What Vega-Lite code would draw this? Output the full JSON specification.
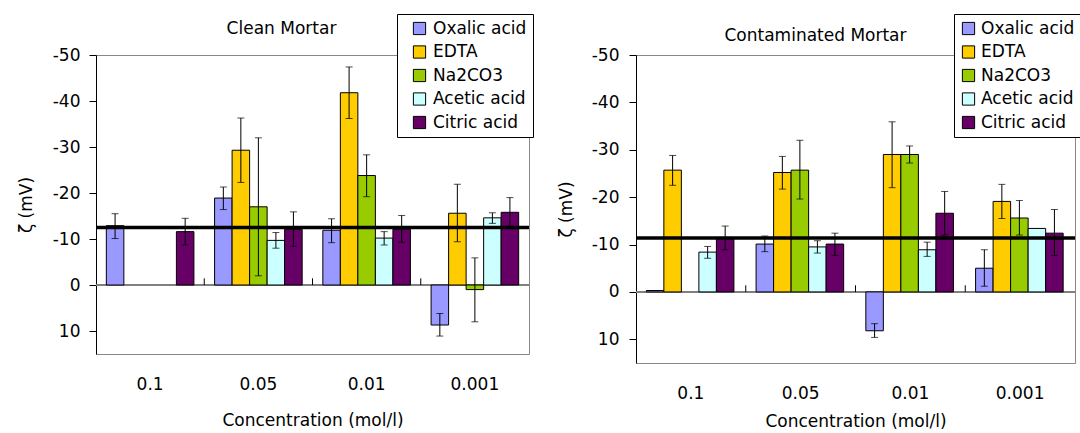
{
  "$schema": "https://vega.github.io/schema/vega-lite/v6.json",
  "background": "white",
  "padding": {"left": 16, "top": 13, "right": 0, "bottom": 0},
  "spacing": 22,
  "datasets": {
    "clean": [
      {"conc": "0.1", "acid": "Oxalic acid", "zeta": -12.9, "lo": -15.5, "hi": -10.1},
      {"conc": "0.1", "acid": "Citric acid", "zeta": -11.6, "lo": -14.5, "hi": -8.7},
      {"conc": "0.05", "acid": "Oxalic acid", "zeta": -18.9, "lo": -21.3, "hi": -16.4},
      {"conc": "0.05", "acid": "EDTA", "zeta": -29.3, "lo": -36.3, "hi": -22.3},
      {"conc": "0.05", "acid": "Na2CO3", "zeta": -17.0, "lo": -32.0, "hi": -2.0},
      {"conc": "0.05", "acid": "Acetic acid", "zeta": -9.7, "lo": -11.4, "hi": -8.0},
      {"conc": "0.05", "acid": "Citric acid", "zeta": -12.1, "lo": -15.9, "hi": -8.4},
      {"conc": "0.01", "acid": "Oxalic acid", "zeta": -11.9, "lo": -14.4, "hi": -9.2},
      {"conc": "0.01", "acid": "EDTA", "zeta": -41.8, "lo": -47.4, "hi": -36.2},
      {"conc": "0.01", "acid": "Na2CO3", "zeta": -23.8, "lo": -28.3, "hi": -19.2},
      {"conc": "0.01", "acid": "Acetic acid", "zeta": -10.2, "lo": -11.6, "hi": -8.7},
      {"conc": "0.01", "acid": "Citric acid", "zeta": -12.1, "lo": -15.1, "hi": -9.3},
      {"conc": "0.001", "acid": "Oxalic acid", "zeta": 8.7, "lo": 6.2, "hi": 11.1},
      {"conc": "0.001", "acid": "EDTA", "zeta": -15.6, "lo": -21.9, "hi": -9.4},
      {"conc": "0.001", "acid": "Na2CO3", "zeta": 1.0, "lo": -5.9, "hi": 8.0},
      {"conc": "0.001", "acid": "Acetic acid", "zeta": -14.6, "lo": -15.7, "hi": -13.4},
      {"conc": "0.001", "acid": "Citric acid", "zeta": -15.8, "lo": -19.0, "hi": -12.8}
    ],
    "contam": [
      {"conc": "0.1", "acid": "Oxalic acid", "zeta": -0.3},
      {"conc": "0.1", "acid": "EDTA", "zeta": -25.7, "lo": -28.8, "hi": -22.5},
      {"conc": "0.1", "acid": "Acetic acid", "zeta": -8.4, "lo": -9.6, "hi": -7.1},
      {"conc": "0.1", "acid": "Citric acid", "zeta": -11.4, "lo": -13.9, "hi": -8.9},
      {"conc": "0.05", "acid": "Oxalic acid", "zeta": -10.1, "lo": -11.8, "hi": -8.5},
      {"conc": "0.05", "acid": "EDTA", "zeta": -25.2, "lo": -28.6, "hi": -21.7},
      {"conc": "0.05", "acid": "Na2CO3", "zeta": -25.7, "lo": -32.0, "hi": -19.6},
      {"conc": "0.05", "acid": "Acetic acid", "zeta": -9.5, "lo": -10.8, "hi": -8.2},
      {"conc": "0.05", "acid": "Citric acid", "zeta": -10.1, "lo": -12.4, "hi": -7.7},
      {"conc": "0.01", "acid": "Oxalic acid", "zeta": 8.2, "lo": 6.7, "hi": 9.6},
      {"conc": "0.01", "acid": "EDTA", "zeta": -29.0, "lo": -35.9, "hi": -22.0},
      {"conc": "0.01", "acid": "Na2CO3", "zeta": -29.0, "lo": -30.8, "hi": -27.2},
      {"conc": "0.01", "acid": "Acetic acid", "zeta": -8.9, "lo": -10.5, "hi": -7.5},
      {"conc": "0.01", "acid": "Citric acid", "zeta": -16.6, "lo": -21.2, "hi": -12.0},
      {"conc": "0.001", "acid": "Oxalic acid", "zeta": -5.0, "lo": -8.9, "hi": -1.2},
      {"conc": "0.001", "acid": "EDTA", "zeta": -19.1, "lo": -22.7, "hi": -15.5},
      {"conc": "0.001", "acid": "Na2CO3", "zeta": -15.6, "lo": -19.3, "hi": -12.0},
      {"conc": "0.001", "acid": "Acetic acid", "zeta": -13.4},
      {"conc": "0.001", "acid": "Citric acid", "zeta": -12.4, "lo": -17.4, "hi": -7.7}
    ],
    "ref_clean": [{"ref": -12.5}],
    "ref_contam": [{"ref": -11.4}],
    "groups": [{"conc": "0.05"}, {"conc": "0.01"}, {"conc": "0.001"}]
  },
  "config": {
    "font": "DejaVu Sans",
    "view": {"stroke": "#888888", "strokeWidth": 1},
    "axis": {
      "labelFont": "DejaVu Sans", "titleFont": "DejaVu Sans",
      "labelFontSize": 17, "titleFontSize": 17, "titleFontWeight": "normal",
      "labelColor": "#000000", "titleColor": "#000000", "grid": false
    },
    "title": {"font": "DejaVu Sans", "fontSize": 17, "fontWeight": "normal", "color": "#000000"},
    "legend": {
      "orient": "none", "title": null,
      "strokeColor": "#000000", "fillColor": "#ffffff", "padding": 6,
      "symbolType": "square", "symbolSize": 150,
      "symbolStrokeColor": "#000000", "symbolStrokeWidth": 1,
      "labelFont": "DejaVu Sans", "labelFontSize": 17, "labelColor": "#000000",
      "rowPadding": 5.5, "symbolOffset": 8, "labelOffset": 5
    }
  },
  "resolve": {"scale": {"color": "independent"}, "legend": {"color": "independent"}},
  "hconcat": [
    {
      "width": 433,
      "height": 299,
      "title": {"text": "Clean Mortar", "frame": "group", "dx": -31, "offset": -24.5},
      "data": {"name": "clean"},
      "layer": [
        {
          "mark": {"type": "rule", "color": "#808080", "strokeWidth": 1.2},
          "encoding": {"y": {"datum": 0, "type": "quantitative"}}
        },
        {
          "data": {"name": "groups"},
          "mark": {"type": "rule", "color": "#000000", "strokeWidth": 1},
          "encoding": {
            "x": {"field": "conc", "type": "nominal", "bandPosition": 0},
            "y": {"datum": 0, "type": "quantitative"},
            "y2": {"datum": -1.45}
          }
        },
        {
          "mark": {"type": "bar", "stroke": "#000000", "strokeWidth": 1},
          "encoding": {
            "x": {
              "field": "conc", "type": "nominal",
              "scale": {"domain": ["0.1", "0.05", "0.01", "0.001"], "paddingInner": 0, "paddingOuter": 0},
              "title": "Concentration (mol/l)",
              "axis": {"orient": "bottom", "domain": false, "ticks": false, "tickSize": 0, "labelAngle": 0, "labelAlign": "center", "labelPadding": 30, "titlePadding": 20}
            },
            "xOffset": {
              "field": "acid", "type": "nominal",
              "scale": {"domain": ["Oxalic acid", "EDTA", "Na2CO3", "Acetic acid", "Citric acid"], "paddingInner": 0, "paddingOuter": 0.59}
            },
            "y": {
              "field": "zeta", "type": "quantitative",
              "scale": {"domain": [-50, 15], "reverse": true, "nice": false},
              "title": "ζ  (mV)",
              "axis": {"values": [-50, -40, -30, -20, -10, 0, 10], "tickSize": 7, "tickColor": "#000000", "domainColor": "#000000", "labelPadding": 9, "titlePadding": 17, "labelExpr": "'' + datum.value"}
            },
            "y2": {"datum": 0},
            "color": {
              "field": "acid", "type": "nominal",
              "scale": {"domain": ["Oxalic acid", "EDTA", "Na2CO3", "Acetic acid", "Citric acid"], "range": ["#9999FF", "#FFCC00", "#99CC00", "#CCFFFF", "#660066"]},
              "legend": {"legendX": 301, "legendY": -41}
            }
          }
        },
        {
          "mark": {"type": "rule", "color": "#000000", "strokeWidth": 1},
          "encoding": {
            "x": {"field": "conc", "type": "nominal"},
            "xOffset": {"field": "acid", "type": "nominal"},
            "y": {"field": "lo", "type": "quantitative"},
            "y2": {"field": "hi"}
          }
        },
        {
          "mark": {"type": "tick", "color": "#000000", "thickness": 1, "size": 7},
          "encoding": {
            "x": {"field": "conc", "type": "nominal"},
            "xOffset": {"field": "acid", "type": "nominal"},
            "y": {"field": "lo", "type": "quantitative"}
          }
        },
        {
          "mark": {"type": "tick", "color": "#000000", "thickness": 1, "size": 7},
          "encoding": {
            "x": {"field": "conc", "type": "nominal"},
            "xOffset": {"field": "acid", "type": "nominal"},
            "y": {"field": "hi", "type": "quantitative"}
          }
        },
        {
          "data": {"name": "ref_clean"},
          "mark": {"type": "rule", "color": "#000000", "strokeWidth": 3.5},
          "encoding": {"y": {"field": "ref", "type": "quantitative"}}
        }
      ]
    },
    {
      "width": 439,
      "height": 308,
      "title": {"text": "Contaminated Mortar", "frame": "group", "dx": -40, "offset": -31},
      "data": {"name": "contam"},
      "layer": [
        {
          "mark": {"type": "rule", "color": "#808080", "strokeWidth": 1.2},
          "encoding": {"y": {"datum": 0, "type": "quantitative"}}
        },
        {
          "data": {"name": "groups"},
          "mark": {"type": "rule", "color": "#000000", "strokeWidth": 1},
          "encoding": {
            "x": {"field": "conc", "type": "nominal", "bandPosition": 0},
            "y": {"datum": 0, "type": "quantitative"},
            "y2": {"datum": -1.4}
          }
        },
        {
          "mark": {"type": "bar", "stroke": "#000000", "strokeWidth": 1},
          "encoding": {
            "x": {
              "field": "conc", "type": "nominal",
              "scale": {"domain": ["0.1", "0.05", "0.01", "0.001"], "paddingInner": 0, "paddingOuter": 0},
              "title": "Concentration (mol/l)",
              "axis": {"orient": "bottom", "domain": false, "ticks": false, "tickSize": 0, "labelAngle": 0, "labelAlign": "center", "labelPadding": 30, "titlePadding": 12}
            },
            "xOffset": {
              "field": "acid", "type": "nominal",
              "scale": {"domain": ["Oxalic acid", "EDTA", "Na2CO3", "Acetic acid", "Citric acid"], "paddingInner": 0, "paddingOuter": 0.735}
            },
            "y": {
              "field": "zeta", "type": "quantitative",
              "scale": {"domain": [-50, 15], "reverse": true, "nice": false},
              "title": "ζ (mV)",
              "axis": {"values": [-50, -40, -30, -20, -10, 0, 10], "tickSize": 7, "tickColor": "#000000", "domainColor": "#000000", "labelPadding": 10, "titlePadding": 16, "labelExpr": "'' + datum.value"}
            },
            "y2": {"datum": 0},
            "color": {
              "field": "acid", "type": "nominal",
              "scale": {"domain": ["Oxalic acid", "EDTA", "Na2CO3", "Acetic acid", "Citric acid"], "range": ["#9999FF", "#FFCC00", "#99CC00", "#CCFFFF", "#660066"]},
              "legend": {"legendX": 318, "legendY": -41, "padding": 6, "symbolOffset": 0, "labelOffset": 4}
            }
          }
        },
        {
          "mark": {"type": "rule", "color": "#000000", "strokeWidth": 1},
          "encoding": {
            "x": {"field": "conc", "type": "nominal"},
            "xOffset": {"field": "acid", "type": "nominal"},
            "y": {"field": "lo", "type": "quantitative"},
            "y2": {"field": "hi"}
          }
        },
        {
          "mark": {"type": "tick", "color": "#000000", "thickness": 1, "size": 7},
          "encoding": {
            "x": {"field": "conc", "type": "nominal"},
            "xOffset": {"field": "acid", "type": "nominal"},
            "y": {"field": "lo", "type": "quantitative"}
          }
        },
        {
          "mark": {"type": "tick", "color": "#000000", "thickness": 1, "size": 7},
          "encoding": {
            "x": {"field": "conc", "type": "nominal"},
            "xOffset": {"field": "acid", "type": "nominal"},
            "y": {"field": "hi", "type": "quantitative"}
          }
        },
        {
          "data": {"name": "ref_contam"},
          "mark": {"type": "rule", "color": "#000000", "strokeWidth": 3.5},
          "encoding": {"y": {"field": "ref", "type": "quantitative"}}
        }
      ]
    }
  ]
}
